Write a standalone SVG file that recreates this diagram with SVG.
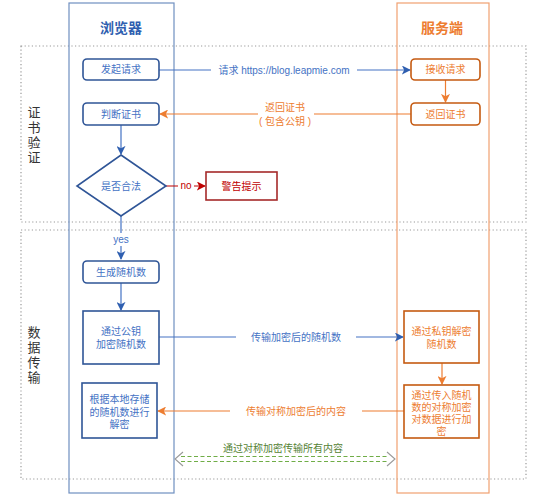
<svg xmlns="http://www.w3.org/2000/svg" width="535" height="500" viewBox="0 0 535 500">
<style>
text{font-family:"Liberation Sans","Noto Sans CJK SC",sans-serif;font-size:10px;text-anchor:middle;dominant-baseline:central}
.sec{fill:none;stroke:#999;stroke-width:1.2;stroke-dasharray:1.2 2.4}
.bn{fill:#fff;stroke:#2f5597;stroke-width:1.6}
.bt{fill:#4472c4}
.on{fill:#fff;stroke:#c55a11;stroke-width:1.6}
.ot{fill:#ed7d31}
.bl{stroke:#4472c4;stroke-width:1.2;fill:none}
.ol{stroke:#ed7d31;stroke-width:1.2;fill:none}
.side{font-family:"Noto Sans CJK SC",sans-serif;font-size:13px;fill:#333;writing-mode:tb;letter-spacing:2px}
.lbg{fill:#fff}
</style>
<defs>
<marker id="ab" viewBox="0 0 10 10" refX="9" refY="5" markerWidth="9" markerHeight="9" orient="auto" markerUnits="userSpaceOnUse"><path d="M0,0 L10,5 L0,10 L2.5,5z" fill="#2f5fb0"/></marker>
<marker id="ao" viewBox="0 0 10 10" refX="9" refY="5" markerWidth="9" markerHeight="9" orient="auto" markerUnits="userSpaceOnUse"><path d="M0,0 L10,5 L0,10 L2.5,5z" fill="#ed7d31"/></marker>
<marker id="ar" viewBox="0 0 10 10" refX="9" refY="5" markerWidth="9" markerHeight="9" orient="auto" markerUnits="userSpaceOnUse"><path d="M0,0 L10,5 L0,10 L2.5,5z" fill="#c00000"/></marker>
</defs>

<!-- sections -->
<rect class="sec" x="21" y="46" width="505" height="176"/>
<rect class="sec" x="21" y="230" width="505" height="249"/>
<text class="side" x="34" y="135.5">证书验证</text>
<text class="side" x="34" y="355.5">数据传输</text>

<!-- lanes -->
<g id="lane-browser">
<rect x="69" y="3" width="105" height="490" fill="none" stroke="#6f8fc0" stroke-width="1.2"/>
<text x="121" y="28" style="font-size:14px;font-weight:bold;fill:#2f5fb0">浏览器</text>
</g>
<g id="lane-server">
<rect x="397" y="3" width="92" height="490" fill="none" stroke="#f0a070" stroke-width="1.2"/>
<text x="442" y="28" style="font-size:14px;font-weight:bold;fill:#ed7d31">服务端</text>
</g>

<!-- connectors -->
<g id="connectors">
<line class="bl" x1="159" y1="70" x2="410" y2="70" marker-end="url(#ab)"/>
<rect class="lbg" x="211" y="63" width="146" height="14"/>
<text x="284" y="70" class="bt">请求 https://blog.leapmie.com</text>

<line class="ol" x1="411" y1="114" x2="160" y2="114" marker-end="url(#ao)"/>
<rect class="lbg" x="258" y="100" width="56" height="28"/>
<text class="ot"><tspan x="285" y="107">返回证书</tspan><tspan x="285" y="121">( 包含公钥 )</tspan></text>

<line class="ol" x1="445.5" y1="80" x2="445.5" y2="102" marker-end="url(#ao)"/>
<line class="bl" x1="121" y1="125" x2="121" y2="154" marker-end="url(#ab)"/>

<line x1="166" y1="186" x2="205" y2="186" stroke="#c00000" stroke-width="1.2" marker-end="url(#ar)"/>
<rect class="lbg" x="178" y="180" width="16" height="12"/>
<text x="186" y="185.5" style="fill:#c00000">no</text>

<line class="bl" x1="121" y1="216" x2="121" y2="259" marker-end="url(#ab)"/>
<rect class="lbg" x="111" y="233" width="20" height="13"/>
<text x="121" y="239" class="bt">yes</text>

<line class="bl" x1="121" y1="283" x2="121" y2="310" marker-end="url(#ab)"/>

<line class="bl" x1="159" y1="337" x2="403" y2="337" marker-end="url(#ab)"/>
<rect class="lbg" x="236" y="330" width="120" height="14"/>
<text x="296" y="337" class="bt">传输加密后的随机数</text>

<line class="ol" x1="442" y1="363" x2="442" y2="384" marker-end="url(#ao)"/>

<line class="ol" x1="404" y1="411" x2="158" y2="411" marker-end="url(#ao)"/>
<rect class="lbg" x="230" y="404" width="132" height="14"/>
<text x="296" y="411" class="ot">传输对称加密后的内容</text>

<g id="sym-transfer" stroke="#70ad47" stroke-width="1.1" fill="none">
<line x1="181" y1="456.5" x2="389" y2="456.5" stroke-dasharray="4 2.5"/>
<line x1="181" y1="461.5" x2="389" y2="461.5" stroke-dasharray="4 2.5"/>
<path d="M183,452 L175,459 L183,466" stroke="#999"/>
<path d="M387,452 L395,459 L387,466" stroke="#999"/>
</g>
<text x="283" y="448" style="fill:#548235">通过对称加密传输所有内容</text>
</g>

<!-- nodes -->
<g id="n-faqi"><rect class="bn" x="83" y="59" width="76" height="21" rx="4"/><text x="121" y="69.5" class="bt">发起请求</text></g>
<g id="n-panduan"><rect class="bn" x="83" y="103" width="76" height="22" rx="4"/><text x="121" y="114" class="bt">判断证书</text></g>
<g id="n-hefa"><polygon class="bn" points="121,155 166,186 121,216 77,186"/><text x="121" y="186" class="bt">是否合法</text></g>
<g id="n-jinggao"><rect x="206" y="172" width="71" height="28" fill="#fff" stroke="#a52a2a" stroke-width="1.6"/><text x="241.5" y="186" style="fill:#c00000">警告提示</text></g>
<g id="n-shengcheng"><rect class="bn" x="83" y="261" width="76" height="22" rx="4"/><text x="121" y="272" class="bt">生成随机数</text></g>
<g id="n-gongyao"><rect class="bn" x="83" y="311" width="76" height="53"/><text class="bt"><tspan x="121" y="331">通过公钥</tspan><tspan x="121" y="344">加密随机数</tspan></text></g>
<g id="n-jiemi"><rect class="bn" x="82" y="383" width="75" height="55"/><text class="bt"><tspan x="119.5" y="399">根据本地存储</tspan><tspan x="119.5" y="411.5">的随机数进行</tspan><tspan x="119.5" y="424">解密</tspan></text></g>
<g id="n-jieshou"><rect class="on" x="411" y="59" width="69" height="21" rx="4"/><text x="445.5" y="69.5" class="ot">接收请求</text></g>
<g id="n-fanhui"><rect class="on" x="411" y="103" width="69" height="22" rx="4"/><text x="445.5" y="114" class="ot">返回证书</text></g>
<g id="n-siyao"><rect class="on" x="404" y="311" width="75" height="52"/><text class="ot"><tspan x="441.5" y="331">通过私钥解密</tspan><tspan x="441.5" y="344">随机数</tspan></text></g>
<g id="n-duicheng"><rect class="on" x="404" y="385" width="75" height="53"/><text class="ot"><tspan x="441.5" y="394.5">通过传入随机</tspan><tspan x="441.5" y="406.5">数的对称加密</tspan><tspan x="441.5" y="418.5">对数据进行加</tspan><tspan x="441.5" y="430.5">密</tspan></text></g>
</svg>
